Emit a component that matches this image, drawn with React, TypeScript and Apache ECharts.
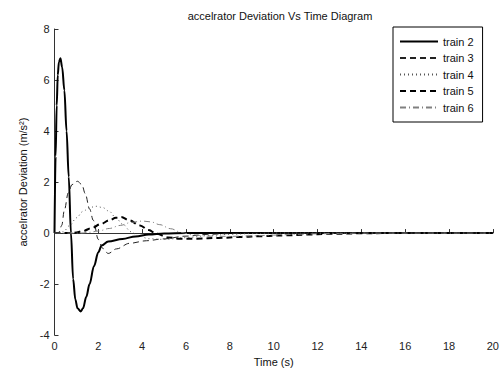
import React, { useEffect, useRef } from "react";
import * as echarts from "echarts";

const xTicks = [0, 2, 4, 6, 8, 10, 12, 14, 16, 18, 20];
const yTicks = [-4, -2, 0, 2, 4, 6, 8];

const train2T = [0, 0.05, 0.1, 0.15, 0.2, 0.27, 0.35, 0.45, 0.55, 0.65, 0.75, 0.85, 0.95, 1.05, 1.2, 1.3, 1.45, 1.6, 1.8, 2.0, 2.15, 2.45, 3.1, 3.7, 4.3, 5, 6, 8, 20];
const train2V = [0, 3.0, 5.0, 6.2, 6.7, 6.85, 6.5, 5.6, 4.0, 2.2, 0.0, -1.8, -2.6, -2.95, -3.07, -2.95, -2.5, -2.0, -1.3, -0.75, -0.49, -0.33, -0.23, -0.13, -0.06, -0.02, 0, 0, 0];

const train3T = [0, 0.2, 0.33, 0.45, 0.63, 0.8, 1.05, 1.25, 1.4, 1.6, 1.77, 2.0, 2.2, 2.45, 2.83, 3.43, 4.2, 4.95, 6, 7, 8, 9, 20];
const train3V = [0, 0.02, 0.3, 0.9, 1.58, 1.9, 2.03, 1.9, 1.55, 0.95, 0.5, -0.25, -0.6, -0.8, -0.62, -0.4, -0.3, -0.23, -0.12, -0.05, -0.02, 0, 0];

const train4T = [0, 0.4, 0.7, 1.0, 1.3, 1.6, 1.9, 2.2, 2.5, 2.8, 3.1, 3.5, 3.8, 4.3, 5, 6, 7, 8, 9, 10, 20];
const train4V = [0, 0.05, 0.3, 0.6, 0.85, 1.0, 1.05, 1.0, 0.85, 0.6, 0.35, 0.05, -0.1, -0.22, -0.25, -0.18, -0.1, -0.05, -0.02, 0, 0];

const train5T = [0, 0.8, 1.0, 1.3, 1.7, 2.1, 2.5, 2.8, 3.05, 3.4, 3.9, 4.3, 4.65, 5.2, 5.7, 6.5, 7.5, 8.5, 9.5, 10.5, 11.5, 12.5, 14, 15, 20];
const train5V = [0, 0, 0.02, 0.08, 0.2, 0.35, 0.5, 0.6, 0.63, 0.5, 0.3, 0.12, -0.03, -0.17, -0.22, -0.22, -0.19, -0.15, -0.12, -0.09, -0.06, -0.03, -0.01, 0, 0];

const train6T = [0, 1.2, 1.6, 2.0, 2.5, 3.0, 3.5, 4.0, 4.4, 4.8, 5.3, 5.8, 6.3, 7, 8, 9, 10, 11, 12, 13, 14.5, 20];
const train6V = [0, 0, 0.03, 0.08, 0.18, 0.3, 0.42, 0.47, 0.44, 0.33, 0.17, 0.02, -0.07, -0.12, -0.13, -0.11, -0.08, -0.05, -0.03, -0.01, 0, 0];

const seriesNames = ["train 2", "train 3", "train 4", "train 5", "train 6"];

const zip = (t: number[], v: number[]) => t.map((x, i) => [x, v[i]]);

export default function App() {
  const ref = useRef<HTMLDivElement>(null);
  useEffect(() => {
    if (!ref.current) return;
    const chart = echarts.init(ref.current, null, { renderer: "svg" });
    const font = "'Liberation Sans', Arial, Helvetica, sans-serif";
    const mk = (name: string, t: number[], v: number[], color: string, width: number, type: any) => ({
      name,
      type: "line",
      data: zip(t, v),
      showSymbol: false,
      symbol: "none",
      smooth: 0.35,
      smoothMonotone: "x",
      lineStyle: { color, width, type },
      itemStyle: { color },
    });
    chart.setOption({
      animation: false,
      backgroundColor: "#ffffff",
      title: {
        text: "accelrator Deviation Vs Time Diagram",
        left: 275,
        top: 5,
        textAlign: "center",
        textStyle: { fontFamily: font, fontSize: 11, fontWeight: "normal", color: "#111" },
      },
      legend: {
        data: seriesNames,
        orient: "vertical",
        left: 393,
        top: 27,
        itemWidth: 38,
        itemHeight: 12,
        itemGap: 5.5,
        padding: [9, 9, 9, 6],
        borderColor: "#000",
        borderWidth: 1,
        backgroundColor: "#fff",
        itemStyle: { color: "transparent", borderWidth: 0, opacity: 0 },
        textStyle: { fontFamily: font, fontSize: 11, color: "#111", padding: [0, 0, 0, 0] },
      },
      grid: { left: 54.5, right: 6.5, top: 29, bottom: 33, containLabel: false },
      xAxis: {
        type: "value",
        min: 0,
        max: 20,
        interval: 2,
        name: "Time (s)",
        nameLocation: "middle",
        nameGap: 20,
        nameTextStyle: { fontFamily: font, fontSize: 11, color: "#111" },
        axisLine: { show: true, lineStyle: { color: "#333", width: 1 } },
        axisTick: { show: true, inside: true, length: 4, lineStyle: { color: "#333" } },
        axisLabel: { fontFamily: font, fontSize: 11, color: "#222", margin: 5 },
        splitLine: { show: false },
      },
      yAxis: {
        type: "value",
        min: -4,
        max: 8,
        interval: 2,
        name: "accelrator Deviation (m/s²)",
        nameLocation: "middle",
        nameGap: 25,
        nameRotate: 90,
        nameTextStyle: { fontFamily: font, fontSize: 11, color: "#111" },
        axisLine: { show: true, lineStyle: { color: "#333", width: 1 } },
        axisTick: { show: true, inside: true, length: 4, lineStyle: { color: "#333" } },
        axisLabel: { fontFamily: font, fontSize: 11, color: "#222", margin: 5 },
        splitLine: { show: false },
      },
      series: [
        mk(seriesNames[0], train2T, train2V, "#000000", 2, "solid"),
        mk(seriesNames[1], train3T, train3V, "#222222", 1, [6, 4]),
        mk(seriesNames[2], train4T, train4V, "#555555", 1, [1, 3]),
        mk(seriesNames[3], train5T, train5V, "#000000", 2, [6, 4]),
        mk(seriesNames[4], train6T, train6V, "#808080", 1, [6, 3, 1, 3]),
      ],
    });
    return () => chart.dispose();
  }, []);
  return <div ref={ref} style={{ position: "fixed", left: 0, top: 0, width: 502, height: 372 }} />;
}
